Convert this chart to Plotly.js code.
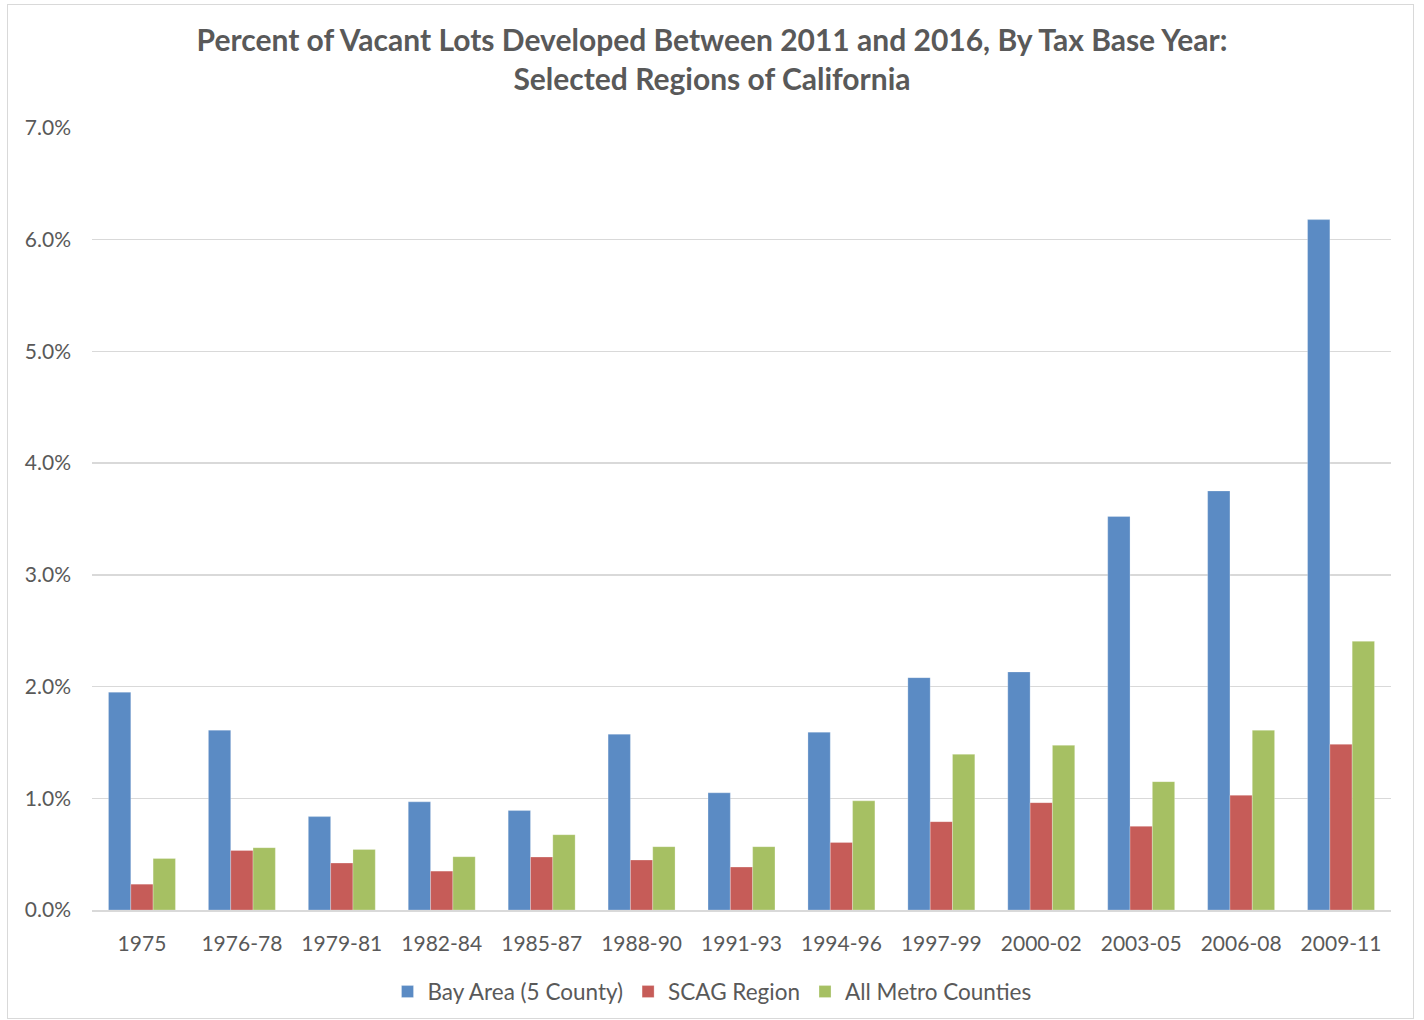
<!DOCTYPE html>
<html>
<head>
<meta charset="utf-8">
<script src="https://cdn.plot.ly/plotly-3.0.1.min.js"></script>
<style>
html,body{margin:0;padding:0;background:#fff;}
#wrap{position:relative;width:1424px;height:1020px;}
#chart{position:absolute;left:0;top:0;width:1424px;height:1020px;}
#frame{position:absolute;left:7px;top:4px;width:1405px;height:1013px;border:1px solid #d9d9d9;pointer-events:none;}
</style>
</head>
<body>
<div id="wrap"><div id="chart"></div><div id="frame"></div></div>
<script>
const categories = ["1975","1976-78","1979-81","1982-84","1985-87","1988-90","1991-93","1994-96","1997-99","2000-02","2003-05","2006-08","2009-11"];
const bayArea = [1.95,1.61,0.836,0.968,0.89,1.574,1.049,1.592,2.08,2.131,3.522,3.751,6.18];
const scag =    [0.231,0.533,0.42,0.348,0.474,0.447,0.384,0.605,0.791,0.961,0.749,1.027,1.483];
const allMetro =[0.461,0.558,0.542,0.477,0.674,0.567,0.567,0.977,1.394,1.474,1.149,1.609,2.405];
const seriesNames = ["Bay Area (5 County)","SCAG Region","All Metro Counties"];
const yTickVals = [0,1,2,3,4,5,6,7];
const yTickText = ["0.0%","1.0%","2.0%","3.0%","4.0%","5.0%","6.0%","7.0%"];
const titleText = "Percent of Vacant Lots Developed Between 2011 and 2016, By Tax Base Year:<br>Selected Regions of California";

const colors = ["#5B8BC4","#C65C58","#A6C063"];
const font = "Lato, 'Open Sans', sans-serif";
const traces = [bayArea, scag, allMetro].map((v,i)=>({
  type:"bar", x:categories, y:v, name:seriesNames[i],
  marker:{color:colors[i], line:{color:"rgba(255,255,255,0.5)", width:0.5}},
  hoverinfo:"x+y"
}));
const layout = {
  width:1424, height:1020,
  margin:{l:92, r:33, t:128, b:110},
  paper_bgcolor:"rgba(0,0,0,0)", plot_bgcolor:"#fff",
  barmode:"group", bargap:0.33, bargroupgap:0,
  font:{family:font, color:"#595959", size:21},
  title:{text:titleText, font:{family:font, size:30, color:"#595959", weight:"bold"}, x:0.5, xanchor:"center", yref:"container", y:0.95, yanchor:"top"},
  xaxis:{type:"category", showgrid:false, showline:true, linecolor:"#d9d9d9", linewidth:1.5, ticks:"", ticklabelstandoff:14, tickfont:{size:21, color:"#595959", family:font}},
  yaxis:{range:[0,7], tickvals:yTickVals, ticktext:yTickText, showgrid:true, gridcolor:"#d9d9d9", gridwidth:1.3, zeroline:false, showline:false, ticks:"", ticklabelstandoff:20, tickfont:{size:21, color:"#595959", family:font}},
  showlegend:true,
  legend:{orientation:"h", x:0.5, xanchor:"center", xref:"container", yref:"container", y:0.0275, yanchor:"middle", font:{size:22.5, color:"#595959", family:font}, itemwidth:30, tracegroupgap:0}
};
Plotly.newPlot("chart", traces, layout, {displayModeBar:false, staticPlot:true});
</script>
</body>
</html>
